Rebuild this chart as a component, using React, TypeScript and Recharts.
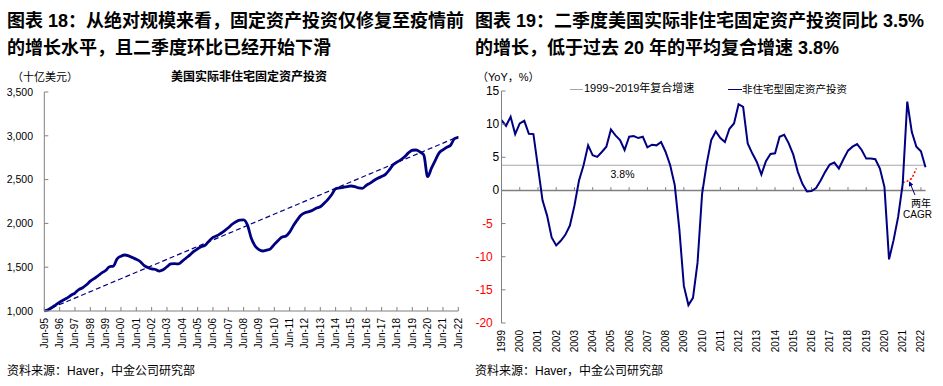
import React from "react";
import { LineChart, Line, XAxis, YAxis, ReferenceLine } from "recharts";

const FONT = '"Liberation Sans", Arial, "Noto Sans CJK SC", sans-serif';
const NAVY = "#000080";
const AXIS = "#808080";

// Real nonresidential fixed investment, bn USD, quarterly from 1995Q2 to 2022Q2
const levelValues = [
  1000, 1015, 1040, 1070, 1100, 1125, 1150, 1180, 1205, 1245, 1265, 1300,
  1340, 1370, 1400, 1435, 1462, 1505, 1512, 1595, 1625, 1639, 1630, 1610,
  1590, 1565, 1520, 1497, 1480, 1474, 1455, 1470, 1505, 1537, 1540, 1537,
  1570, 1605, 1640, 1680, 1710, 1735, 1753, 1800, 1840, 1858, 1885, 1915,
  1950, 1990, 2020, 2037, 2040, 1980, 1830, 1742, 1700, 1685, 1695, 1710,
  1760, 1805, 1845, 1855, 1900, 1975, 2040, 2095, 2122, 2134, 2150, 2175,
  2190, 2230, 2275, 2330, 2395, 2405, 2412, 2420, 2427, 2420, 2405, 2400,
  2435, 2460, 2490, 2515, 2535, 2560, 2610, 2670, 2700, 2725, 2760, 2805,
  2835, 2838, 2815, 2780, 2533, 2630, 2720, 2805, 2840, 2870, 2893, 2968,
  2983,
];
// dashed trend: first and last point only
const trendEnds = [1000, 2990];
const levelTicks = [1000, 1500, 2000, 2500, 3000, 3500];

// YoY %, quarterly from 1999Q1 to 2022Q2
const yoyValues = [
  10.6, 9.75, 11.1, 8.5, 10.1, 10.5, 8.55, 8.5, 3.5, -1.5, -3.8, -7.1,
  -8.3, -7.6, -6.7, -5.3, -2.3, 1.5, 3.8, 6.8, 5.3, 5.05, 5.8, 6.6,
  9.2, 8.3, 7.6, 6.1, 8.1, 8.2, 7.9, 8.1, 6.5, 6.9, 6.8, 7.3,
  5.8, 3.8, 0.8, -5.8, -14.4, -17.3, -16.2, -10.9, -0.5, 4.0, 7.6, 8.9,
  7.9, 7.3, 9.3, 10.1, 13.0, 12.6, 7.1, 5.6, 4.3, 2.4, 4.4, 5.5,
  5.6, 8.1, 8.4, 7.1, 5.4, 2.8, 1.0, -0.15, -0.1, 0.35, 1.5, 2.8,
  3.9, 4.2, 3.3, 4.7, 6.0, 6.6, 7.0, 6.1, 4.8, 4.8, 4.7, 3.3,
  0.5, -10.4, -7.5, -4.0, 1.0, 13.4, 8.8, 6.6, 5.9, 3.5,
];
// two-year CAGR, 2021Q1..2021Q4
const cagrStart = "2021Q1";
const cagrValues = [1.2, 1.4, 1.8, 3.3];
const cagrAvg = 3.8;
const yoyTicks = [-20, -15, -10, -5, 0, 5, 10, 15];

function quarters(year: number, q: number, n: number) {
  const out: string[] = [];
  for (let i = 0; i < n; i++) {
    out.push(`${year}Q${q}`);
    q++;
    if (q > 4) {
      q = 1;
      year++;
    }
  }
  return out;
}

const levelQuarters = quarters(1995, 2, levelValues.length);
const yoyQuarters = quarters(1999, 1, yoyValues.length);

const levelData = levelValues.map((v, i) => ({
  q: levelQuarters[i],
  level: v,
  trend: i === 0 ? trendEnds[0] : i === levelValues.length - 1 ? trendEnds[1] : null,
}));

const cagrIdx = yoyQuarters.indexOf(cagrStart);
const yoyData = yoyValues.map((v, i) => ({
  q: yoyQuarters[i],
  yoy: v,
  cagr: i >= cagrIdx && i < cagrIdx + cagrValues.length ? cagrValues[i - cagrIdx] : null,
}));

const levelXTicks = levelQuarters.filter((q) => q.endsWith("Q2"));
const yoyXTicks = yoyQuarters.filter((q) => q.endsWith("Q1"));

function RotTick(props: any) {
  const { x, y, payload, fmt } = props;
  return (
    <text
      x={x}
      y={y}
      transform={`rotate(-90 ${x} ${y})`}
      textAnchor="end"
      dominantBaseline="central"
      fontSize={10}
      fontFamily={FONT}
      fill="#000"
    >
      {fmt(payload.value)}
    </text>
  );
}

function YoyTick(props: any) {
  const { x, y, payload } = props;
  const neg = payload.value < 0;
  return (
    <text
      x={x + (neg ? -6.5 : 0)}
      y={y}
      textAnchor="end"
      dominantBaseline="central"
      fontSize={12}
      fontFamily={FONT}
      fill={neg ? "#ff0000" : "#000"}
    >
      {payload.value}
    </text>
  );
}

function Txt({ x, y, size, bold, color, children, lh }: any) {
  return (
    <div
      style={{
        position: "absolute",
        left: x,
        top: y,
        fontSize: size,
        fontWeight: bold ? 700 : 400,
        color: color || "#000",
        whiteSpace: "nowrap",
        lineHeight: lh ? `${lh}px` : 1,
        fontFamily: FONT,
      }}
    >
      {children}
    </div>
  );
}

export default function App() {
  return (
    <div
      style={{
        position: "absolute",
        left: 0,
        top: 0,
        width: 943,
        height: 386,
        background: "#fff",
        overflow: "hidden",
        fontFamily: FONT,
      }}
    >
      <Txt x={7} y={8} size={18} bold lh={27}>
        图表 18：从绝对规模来看，固定资产投资仅修复至疫情前
        <br />
        的增长水平，且二季度环比已经开始下滑
      </Txt>
      <Txt x={475} y={8} size={18} bold lh={27}>
        图表 19：二季度美国实际非住宅固定资产投资同比 3.5%
        <br />
        的增长，低于过去 20 年的平均复合增速 3.8%
      </Txt>

      <Txt x={12} y={72} size={11}>（十亿美元）</Txt>
      <Txt x={171} y={71} size={12} bold>美国实际非住宅固定资产投资</Txt>

      <Txt x={477} y={72} size={11}>（YoY，%）</Txt>
      <div style={{ position: "absolute", left: 570, top: 89, width: 13, height: 1, background: "#a6a6a6" }} />
      <Txt x={584} y={83} size={11}>1999~2019年复合增速</Txt>
      <div style={{ position: "absolute", left: 728, top: 88.5, width: 14, height: 1.5, background: NAVY }} />
      <Txt x={742} y={83.5} size={10.5}>非住宅型固定资产投资</Txt>

      <Txt x={7} y={365} size={12}>资料来源：Haver，中金公司研究部</Txt>
      <Txt x={475} y={365} size={12}>资料来源：Haver，中金公司研究部</Txt>

      <div style={{ position: "absolute", left: 0, top: 0 }}>
        <LineChart
          width={470}
          height={386}
          data={levelData}
          margin={{ top: 92, right: 11.7, bottom: 35, left: 0 }}
        >
          <XAxis
            dataKey="q"
            scale="point"
            padding={{ left: 0, right: 0 }}
            ticks={levelXTicks}
            interval={0}
            height={40}
            stroke={AXIS}
            tickSize={-4}
            tickMargin={11}
            tick={(p: any) => <RotTick {...p} fmt={(q: string) => `Jun-${q.slice(2, 4)}`} />}
          />
          <YAxis
            domain={[1000, 3500]}
            ticks={levelTicks}
            interval={0}
            width={44.3}
            stroke={AXIS}
            tickSize={-4}
            tickMargin={15.3}
            tick={{ fontSize: 10.5, fill: "#000", fontFamily: FONT }}
            tickFormatter={(v: number) => v.toLocaleString("en-US")}
          />
          <Line
            dataKey="trend"
            connectNulls
            stroke={NAVY}
            strokeWidth={1.2}
            strokeDasharray="5 3"
            dot={false}
            activeDot={false}
            isAnimationActive={false}
          />
          <Line
            dataKey="level"
            type="monotone"
            stroke={NAVY}
            strokeWidth={2.8}
            dot={false}
            activeDot={false}
            isAnimationActive={false}
          />
        </LineChart>
      </div>

      <div style={{ position: "absolute", left: 470, top: 0 }}>
        <LineChart
          width={473}
          height={386}
          data={yoyData}
          margin={{ top: 91, right: 17.5, bottom: 23, left: 0 }}
        >
          <XAxis
            dataKey="q"
            scale="point"
            padding={{ left: 0, right: 0 }}
            ticks={yoyXTicks}
            interval={0}
            height={40}
            axisLine={false}
            tickLine={false}
            tickSize={0}
            tickMargin={7}
            tick={(p: any) => <RotTick {...p} fmt={(q: string) => q.slice(0, 4)} />}
          />
          <YAxis
            domain={[-20, 15]}
            ticks={yoyTicks}
            interval={0}
            width={31.5}
            stroke={AXIS}
            tickSize={-4}
            tickMargin={6.2}
            tick={(p: any) => <YoyTick {...p} />}
          />
          <ReferenceLine
            y={cagrAvg}
            stroke="#a6a6a6"
            strokeWidth={1}
            label={(p: any) => (
              <text
                x={p.viewBox.x + 121}
                y={p.viewBox.y + 8.5}
                textAnchor="middle"
                dominantBaseline="central"
                fontSize={10.5}
                fontFamily={FONT}
                fill="#000"
              >
                {`${cagrAvg}%`}
              </text>
            )}
          />
          <ReferenceLine y={0} stroke={AXIS} strokeWidth={1.5} />
          {yoyXTicks.slice(1).map((q) => (
            <ReferenceLine
              key={q}
              segment={[
                { x: q, y: 0 },
                { x: q, y: 0.5 },
              ]}
              stroke={AXIS}
            />
          ))}
          <Line
            dataKey="cagr"
            stroke="#ff0000"
            strokeWidth={1.5}
            strokeDasharray="2 2"
            dot={false}
            activeDot={false}
            isAnimationActive={false}
          />
          <Line
            dataKey="yoy"
            stroke={NAVY}
            strokeWidth={2}
            dot={false}
            activeDot={false}
            isAnimationActive={false}
          />
        </LineChart>
      </div>

      <svg
        width={943}
        height={386}
        style={{ position: "absolute", left: 0, top: 0, pointerEvents: "none" }}
      >
        <defs>
          <marker id="ah" viewBox="0 0 6 6" refX="5" refY="3" markerWidth="5" markerHeight="5" orient="auto">
            <path d="M0,0 L6,3 L0,6 z" fill={NAVY} />
          </marker>
        </defs>
        <line x1={915} y1={195} x2={909.5} y2={182} stroke={NAVY} strokeWidth={1} markerEnd="url(#ah)" />
        <text x={931} y={203} textAnchor="end" dominantBaseline="central" fontSize={10} fontFamily={FONT}>
          两年
        </text>
        <text x={932} y={214.5} textAnchor="end" dominantBaseline="central" fontSize={10} fontFamily={FONT}>
          CAGR
        </text>
      </svg>
    </div>
  );
}
